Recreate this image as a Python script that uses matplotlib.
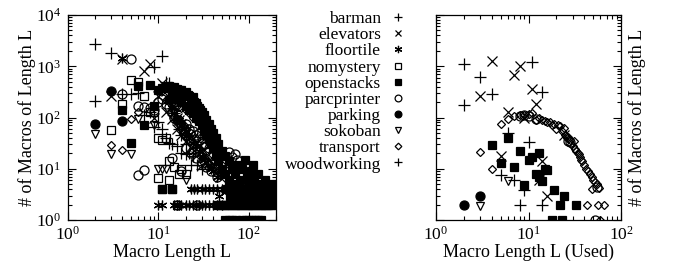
import matplotlib
matplotlib.use("Agg")
import matplotlib.pyplot as plt
from matplotlib.lines import Line2D

plt.rcParams['font.family'] = ['Liberation Serif', 'DejaVu Serif']
plt.rcParams['mathtext.fontset'] = 'custom'
plt.rcParams['mathtext.rm'] = 'Liberation Serif'

# ---------------- left panel data (all macros) ----------------
barman_L_x = [2, 3, 9, 11, 12, 13, 14, 15, 16, 17, 18, 20, 22, 24, 27, 30]
barman_L_y = [2700, 1800, 950, 1600, 500, 480, 200, 120, 90, 60, 45, 30, 20, 18, 12, 10]

woodworking_L_x = [2, 4, 5, 6, 7, 8, 9, 10, 11, 12, 13, 14, 16, 18, 20, 23]
woodworking_L_y = [210, 290, 290, 300, 110, 130, 65, 80, 60, 40, 32, 30, 28, 20, 19, 12]

elevators_L_x = [3, 4, 7, 8, 9, 10, 11, 12, 13, 14, 15, 16, 17, 18, 19, 20, 22, 24, 26, 28, 30,
                 33, 36, 40, 44, 48, 12, 14, 16, 18, 20, 23, 26, 30]
elevators_L_y = [265, 1400, 800, 1130, 100, 260, 480, 330, 250, 160, 120, 100, 90, 75, 60, 55, 45,
                 40, 32, 28, 22, 18, 15, 12, 9, 7, 130, 95, 60, 45, 35, 25, 18, 12]

floortile_L_x = [4, 14, 15, 16, 17, 18, 19, 20, 21, 22, 24, 26, 28, 30, 32, 35, 38, 40, 45,
                 10, 11, 15, 16, 17, 18, 20, 22, 24, 26, 28, 30, 33, 36, 40, 45, 50,
                 23, 25, 27, 30, 33, 36, 40, 45, 50, 55, 60, 47]
floortile_L_y = [1450, 150, 120, 100, 90, 80, 60, 55, 45, 40, 32, 28, 22, 18, 15, 12, 10, 9, 7,
                 2, 2, 2, 2, 2, 2, 2, 2, 2, 2, 2, 2, 2, 2, 2, 2, 2,
                 4, 4, 4, 4, 4, 4, 4, 4, 4, 4, 4, 3]

nomystery_L_x = [3, 4, 5, 6, 7, 8, 9, 10, 11, 12, 13, 15, 10, 13, 17, 18, 20, 11, 14, 16]
nomystery_L_y = [58, 180, 530, 490, 260, 127, 130, 40, 36, 40, 14, 11, 6.5, 6, 8, 10, 8, 4, 4, 2]

openstacks_L_x = [4, 5, 6, 7, 8, 9, 10, 11, 12, 13, 14, 15, 16, 17, 18, 19, 20, 21, 22, 23, 24, 25,
                  26, 27, 28, 29, 30, 32, 34, 36, 38, 40, 43, 46, 50, 55, 60, 65, 70, 75, 80, 85,
                  90, 95, 100, 105, 110, 115, 120, 125, 130, 140, 150, 160, 170, 180, 190,
                  14, 16, 18, 20, 22, 24, 26, 28, 30, 32, 34, 36, 38, 40, 43, 46, 50, 55, 60,
                  65, 70, 75, 80, 90, 100, 110, 120, 130, 140, 150,
                  45, 48, 51, 54, 57, 60, 64, 68, 72, 76, 80, 85, 90, 95, 100, 106, 112, 118,
                  125, 132, 140, 148, 156, 165, 175, 185,
                  55, 60, 66, 72, 85, 92, 100, 108, 116, 125, 135,
                  62, 68, 74, 82, 88, 96, 104, 114, 122, 135, 145, 158, 170, 182,
                  58, 64, 70, 78, 86, 94, 102, 112, 128, 138, 152, 165, 178,
                  11, 14]
openstacks_L_y = [140, 32, 420, 70, 430, 170, 350, 380, 400, 420, 370, 400, 360, 350, 340, 300, 320,
                  280, 260, 240, 250, 200, 190, 170, 150, 140, 130, 110, 90, 75, 60, 50, 40, 30,
                  22, 18, 14, 10, 8, 12, 6, 10, 15, 7, 5, 9, 12, 6, 4, 8, 5, 3, 6, 4, 3, 5, 3,
                  250, 230, 200, 170, 140, 120, 100, 85, 70, 55, 45, 38, 30, 25, 18, 14, 10, 8,
                  6, 5, 4, 3.5, 3, 4, 3, 3, 2.5, 3.5, 4, 3,
                  2, 2, 2, 2, 2, 2, 2, 2, 2, 2, 2, 2, 2, 2, 2, 2, 2, 2,
                  2, 2, 2, 2, 2, 2, 2, 2,
                  1, 1, 1, 1, 1, 1, 1, 1, 1, 1, 1,
                  3, 3, 3, 3, 3, 3, 3, 3, 3, 3, 3, 3, 3, 3,
                  4, 4, 4, 4, 4, 4, 4, 4, 4, 4, 4, 4, 4,
                  4, 4]

parcprinter_L_x = [4, 5, 6, 7, 8, 9, 10, 11, 12, 13, 14, 15, 16, 17, 18, 19, 20, 22, 24, 26, 28, 30,
                   33, 36, 40, 6, 7, 14, 18, 16, 27, 60, 65, 70, 75,
                   20, 23, 26, 30, 34, 38, 44]
parcprinter_L_y = [290, 1400, 170, 160, 150, 140, 200, 230, 180, 160, 130, 100, 90, 80, 70, 60, 75,
                   60, 55, 45, 50, 40, 30, 25, 20, 7.5, 9.5, 16, 9, 2, 2, 21, 17, 19, 15,
                   25, 20, 16, 13, 11, 9, 7]

parking_L_x = [2, 3, 4, 13]
parking_L_y = [75, 330, 85, 230]

sokoban_L_x = [2, 3, 5, 6, 9, 10, 11, 12, 20]
sokoban_L_y = [47, 19, 19, 95, 70, 10, 10, 10, 6]

transport_L_x = [3, 4, 5, 6, 12, 13, 14, 15, 16, 17, 18, 20, 22, 24, 26, 28, 30, 33, 36, 40, 45,
                 50, 55, 60, 70, 20, 22, 25, 28, 30, 33, 36, 40, 45, 50,
                 16, 19, 23, 27, 32, 38]
transport_L_y = [29, 23, 95, 130, 220, 200, 190, 180, 170, 160, 150, 140, 120, 100, 90, 80, 70,
                 60, 50, 40, 30, 20, 15, 10, 6, 40, 35, 30, 25, 20, 16, 13, 11, 9, 8,
                 90, 70, 50, 38, 28, 18]

# ---------------- right panel data (used macros) ----------------
barman_R_x = [2, 3, 4, 11, 14]
barman_R_y = [1130, 610, 285, 1200, 310]

woodworking_R_x = [2, 6, 10, 5, 7, 9, 8, 14]
woodworking_R_y = [175, 50, 34, 7.7, 6, 3.8, 2, 2]

elevators_R_x = [3, 4, 5, 6, 7, 8, 9, 11, 12, 13, 14, 16, 24]
elevators_R_y = [260, 1290, 18, 126, 660, 1030, 100, 365, 180, 5.9, 14, 2.9, 45]

openstacks_R_x = [4, 6, 8, 10, 11, 13, 5, 7, 9, 12, 13, 14, 16, 15, 19, 24, 22, 33, 18, 23]
openstacks_R_y = [29, 40, 22, 15, 17, 20, 13, 10.7, 4.9, 8, 7, 5.7, 9.5, 10, 3.8, 2.9, 2, 2, 1, 1]

parcprinter_R_x = [8, 9, 10, 12, 27, 28, 55, 52]
parcprinter_R_y = [105, 112, 108, 95, 35, 33, 4.5, 1]

parking_R_x = [2, 3]
parking_R_y = [2, 2.9]

sokoban_R_x = [3, 6]
sokoban_R_y = [1.9, 5.7]

transport_R_x = [3, 4, 5, 6, 7, 8, 9, 10, 11, 12, 13, 14, 15, 16, 17, 18, 19, 20, 21, 22, 23, 24,
                 25, 26, 27, 28, 29, 30, 31, 32, 33, 34, 35, 36, 37, 38, 40, 42, 44, 46, 48, 50,
                 52, 55, 58, 48, 43, 56, 66, 60]
transport_R_y = [21, 9.8, 76, 94, 105, 110, 110, 115, 120, 90, 100, 88, 85, 80, 82, 70, 75, 60,
                 72, 68, 55, 62, 45, 40, 42, 37, 30, 28, 35, 24, 22, 20, 19, 17, 15, 14, 12, 10,
                 9, 8, 7, 6, 5.5, 5, 4.2, 4, 2, 2, 2, 1]

names = ['barman', 'elevators', 'floortile', 'nomystery', 'openstacks',
         'parcprinter', 'parking', 'sokoban', 'transport', 'woodworking']

AST = (6, 2, 0)
styles = {
    'barman': dict(marker='+', ms=8, mfc='none'),
    'elevators': dict(marker='x', ms=6.5, mfc='none'),
    'floortile': dict(marker=AST, ms=7, mfc='none'),
    'nomystery': dict(marker='s', ms=6, mfc='none'),
    'openstacks': dict(marker='s', ms=6, mfc='black'),
    'parcprinter': dict(marker='o', ms=6.5, mfc='none'),
    'parking': dict(marker='o', ms=6.5, mfc='black'),
    'sokoban': dict(marker='v', ms=5.5, mfc='none'),
    'transport': dict(marker='D', ms=4.5, mfc='none'),
    'woodworking': dict(marker='+', ms=8, mfc='none'),
}

left_data = {
    'barman': (barman_L_x, barman_L_y), 'elevators': (elevators_L_x, elevators_L_y),
    'floortile': (floortile_L_x, floortile_L_y), 'nomystery': (nomystery_L_x, nomystery_L_y),
    'openstacks': (openstacks_L_x, openstacks_L_y), 'parcprinter': (parcprinter_L_x, parcprinter_L_y),
    'parking': (parking_L_x, parking_L_y), 'sokoban': (sokoban_L_x, sokoban_L_y),
    'transport': (transport_L_x, transport_L_y), 'woodworking': (woodworking_L_x, woodworking_L_y),
}
right_data = {
    'barman': (barman_R_x, barman_R_y), 'elevators': (elevators_R_x, elevators_R_y),
    'openstacks': (openstacks_R_x, openstacks_R_y), 'parcprinter': (parcprinter_R_x, parcprinter_R_y),
    'parking': (parking_R_x, parking_R_y), 'sokoban': (sokoban_R_x, sokoban_R_y),
    'transport': (transport_R_x, transport_R_y), 'woodworking': (woodworking_R_x, woodworking_R_y),
}

fig = plt.figure(figsize=(6.76, 2.64), dpi=100)
axL = fig.add_axes([68 / 676, 44 / 264, 208 / 676, 205 / 264])
axR = fig.add_axes([436 / 676, 44 / 264, 185 / 676, 205 / 264])

FS = 13

for ax, data, xmax in ((axL, left_data, 200), (axR, right_data, 100)):
    for n in names:
        if n in data:
            x, y = data[n]
            ax.plot(x, y, ls='none', color='black', mec='black', mew=0.9, clip_on=True,
                    **styles[n])
    ax.set_xscale('log')
    ax.set_yscale('log')
    ax.set_xlim(1, xmax)
    ax.set_ylim(1, 1e4)
    ax.tick_params(which='both', direction='in', top=True, right=True, labelsize=12.5, width=0.8)
    ax.tick_params(which='major', length=6)
    ax.tick_params(which='minor', length=3)
    ax.tick_params(axis='x', which='major', pad=4)
    ax.tick_params(axis='y', which='major', pad=5)
    for s in ax.spines.values():
        s.set_linewidth(0.9)

axL.set_xlabel('Macro Length L', fontsize=FS, labelpad=0.5)
axL.set_ylabel('# of Macros of Length L', fontsize=FS, labelpad=0)
axR.set_xlabel('Macro Length L (Used)', fontsize=FS, labelpad=0.5)
axR.tick_params(axis='y', which='both', labelleft=False)
axR.yaxis.set_label_position('right')
axR.set_ylabel('# of Macros of Length L', fontsize=FS, labelpad=5)

handles = [Line2D([], [], ls='none', color='black', mec='black', mew=0.9, **styles[n]) for n in names]
fig.legend(handles, names, loc='upper right', bbox_to_anchor=(407 / 676, 0.965),
           frameon=False, markerfirst=False, fontsize=12.5, labelspacing=0.0,
           handlelength=0.8, handletextpad=0.6, markerscale=0.75, borderpad=0.1,
           borderaxespad=0.0)

fig.savefig('out.png', dpi=100)
